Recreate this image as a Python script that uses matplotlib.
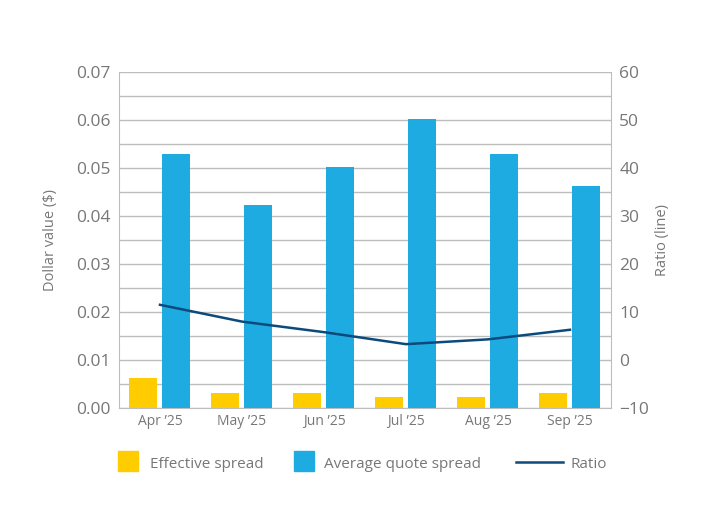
import matplotlib
matplotlib.use("Agg")
import matplotlib.pyplot as plt
import numpy as np
from matplotlib.patches import Rectangle
from matplotlib.lines import Line2D

categories = ["Apr \u201925", "May \u201925", "Jun \u201925", "Jul \u201925", "Aug \u201925", "Sep \u201925"]
effective_spread = [0.0062, 0.0031, 0.0031, 0.0023, 0.0023, 0.0031]
avg_quote_spread = [0.0529, 0.0423, 0.0502, 0.0602, 0.0529, 0.0463]
ratio = [11.5, 8.0, 5.8, 3.3, 4.3, 6.3]
legend_labels = ["Effective spread", "Average quote spread", "Ratio"]

plt.rcParams['font.family'] = ['Open Sans', 'DejaVu Sans']
grey = "#777777"
yellow = "#FFCC00"
blue = "#1EABE2"
navy = "#0B4A7B"
gridc = "#BDBDBD"

W, H = 720, 524
fig = plt.figure(figsize=(7.2, 5.24), dpi=100)
ax = fig.add_axes([119/W, (H-408)/H, 492/W, 336/H])
x = np.arange(len(categories))
w = 0.34
ax.bar(x - 0.21, effective_spread, width=w, color=yellow, zorder=3)
ax.bar(x + 0.20, avg_quote_spread, width=w, color=blue, zorder=3)
ax.set_xlim(-0.5, len(categories) - 0.5)
ax.set_ylim(0, 0.07)
ax.set_yticks(np.arange(0, 0.0701, 0.01))
ax.set_yticks(np.arange(0, 0.0701, 0.005), minor=True)
ax.set_yticklabels([f"{v:.2f}" for v in np.arange(0, 0.0701, 0.01)])
ax.grid(axis='y', which='both', color=gridc, linewidth=1, zorder=0)
ax.set_xticks(x)
ax.set_xticklabels(categories)
ax.tick_params(axis='x', length=0, labelsize=10, colors=grey, pad=4)
ax.tick_params(axis='y', which='both', length=0, labelsize=12.5, colors=grey, pad=6)
for s in ['left', 'right', 'bottom']:
    ax.spines[s].set_color(gridc)
ax.spines['top'].set_visible(False)
ax.set_ylabel("Dollar value ($)", color=grey, fontsize=10.5, labelpad=13)

ax2 = ax.twinx()
ax2.plot(x, ratio, color=navy, linewidth=1.8, zorder=4)
ax2.set_ylim(-10, 60)
ax2.set_yticks(np.arange(-10, 61, 10))
ax2.tick_params(axis='y', length=0, labelsize=12.5, colors=grey, pad=6)
for s in ['left', 'right', 'bottom', 'top']:
    ax2.spines[s].set_visible(False)
ax2.set_ylabel("Ratio (line)", color=grey, fontsize=10.5, labelpad=4)

# legend drawn in figure pixel coordinates
def fx(px):
    return px / W
def fy(py):
    return 1 - py / H
yt = 462
fig.patches.append(Rectangle((fx(118), fy(471)), 20/W, 20/H, color=yellow, transform=fig.transFigure, figure=fig))
fig.text(fx(150), fy(yt), legend_labels[0], color=grey, fontsize=11, va='center_baseline', ha='left')
fig.patches.append(Rectangle((fx(294), fy(471)), 20/W, 20/H, color=blue, transform=fig.transFigure, figure=fig))
fig.text(fx(324), fy(yt), legend_labels[1], color=grey, fontsize=11, va='center_baseline', ha='left')
fig.lines.append(Line2D([fx(516), fx(563)], [fy(462), fy(462)], color=navy, linewidth=1.8, transform=fig.transFigure, figure=fig))
fig.text(fx(571), fy(yt), legend_labels[2], color=grey, fontsize=11, va='center_baseline', ha='left')

fig.savefig("out.png", dpi=100)
